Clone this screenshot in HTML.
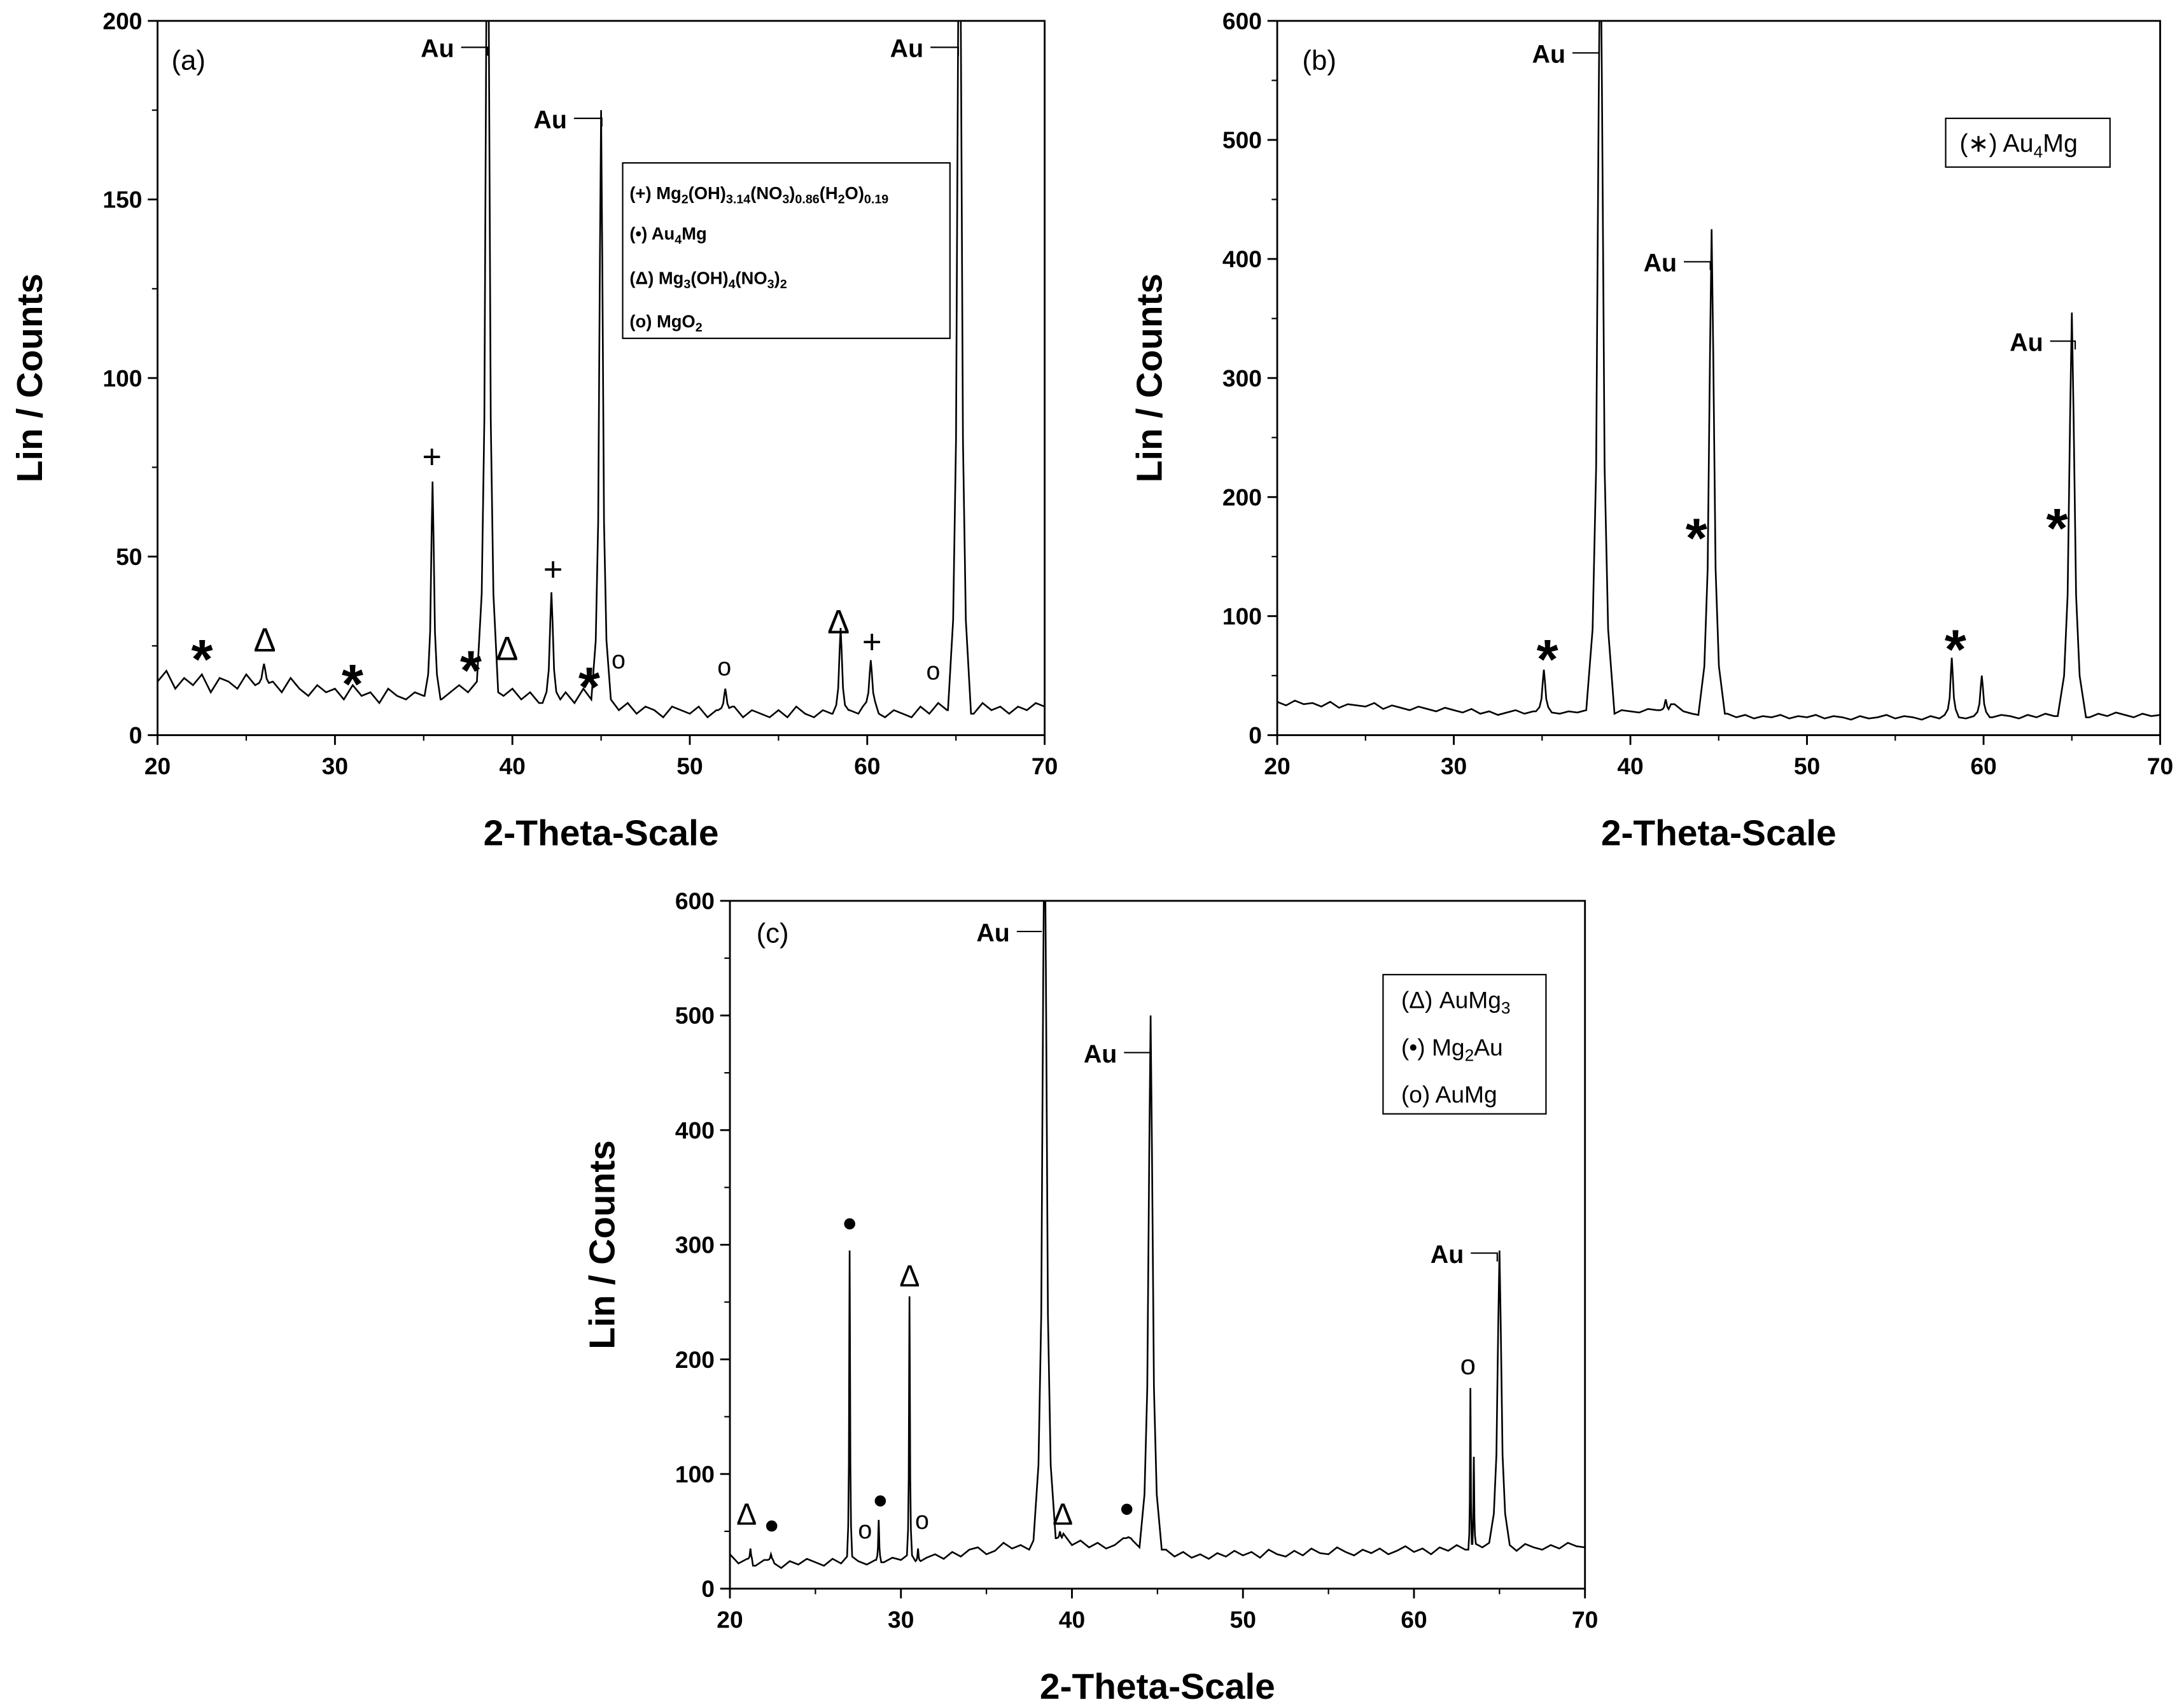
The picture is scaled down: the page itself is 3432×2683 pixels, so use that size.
<!DOCTYPE html>
<html><head><meta charset="utf-8"><style>
html,body{margin:0;padding:0;background:#fff}
svg{display:block}
text{font-family:"Liberation Sans",sans-serif}
</style></head><body>
<svg id="fig" xmlns="http://www.w3.org/2000/svg" width="3432" height="2683" viewBox="0 0 1568 1226">
<rect width="1568" height="1226" fill="#fff"/>
<defs>
<clipPath id="ca"><rect x="113" y="15" width="637" height="513"/></clipPath>
<clipPath id="cb"><rect x="917" y="15" width="634" height="513"/></clipPath>
<clipPath id="cc"><rect x="524" y="647" width="614" height="494"/></clipPath>
</defs>
<g id="pa"></g>
<g id="pb"></g>
<g id="pc"></g>

<g font-size="16">
<text x="123" y="50" font-size="20">(a)</text>
<text x="302" y="41" font-weight="bold" font-size="18">Au</text>
<path d="M331 34H350V40" stroke="#000" fill="none"/>
<text x="383" y="92" font-weight="bold" font-size="18">Au</text>
<path d="M412 85H432V91" stroke="#000" fill="none"/>
<text x="639" y="41" font-weight="bold" font-size="18">Au</text>
<path d="M668 34H688V40" stroke="#000" fill="none"/>
<g font-size="40" font-weight="bold" text-anchor="middle">
<text x="145" y="487">*</text><text x="253" y="505">*</text><text x="338" y="495">*</text><text x="423" y="507">*</text>
</g>
<g font-size="24" text-anchor="middle">
<text x="190" y="468">Δ</text><text x="364" y="474">Δ</text><text x="602" y="455">Δ</text>
<text x="310" y="336">+</text><text x="397" y="417">+</text><text x="626" y="469">+</text>
</g>
<g font-size="18" text-anchor="middle" font-family="Liberation Serif">
<text x="444" y="480">o</text><text x="520" y="485">o</text><text x="670" y="488">o</text>
</g>
<g font-size="12.5" font-weight="bold">
<rect x="447" y="117" width="235" height="126" fill="#fff" stroke="#000" stroke-width="1"/>
<text x="452" y="143">(+) Mg<tspan font-size="9" dy="3">2</tspan><tspan dy="-3">(OH)</tspan><tspan font-size="9" dy="3">3.14</tspan><tspan dy="-3">(NO</tspan><tspan font-size="9" dy="3">3</tspan><tspan dy="-3">)</tspan><tspan font-size="9" dy="3">0.86</tspan><tspan dy="-3">(H</tspan><tspan font-size="9" dy="3">2</tspan><tspan dy="-3">O)</tspan><tspan font-size="9" dy="3">0.19</tspan></text>
<text x="452" y="172">(•) Au<tspan font-size="9" dy="3">4</tspan><tspan dy="-3">Mg</tspan></text>
<text x="452" y="204">(Δ) Mg<tspan font-size="9" dy="3">3</tspan><tspan dy="-3">(OH)</tspan><tspan font-size="9" dy="3">4</tspan><tspan dy="-3">(NO</tspan><tspan font-size="9" dy="3">3</tspan><tspan dy="-3">)</tspan><tspan font-size="9" dy="3">2</tspan></text>
<text x="452" y="235">(o) MgO<tspan font-size="9" dy="3">2</tspan></text>
</g>
</g>

<g>
<text x="935" y="50" font-size="20">(b)</text>
<text x="1100" y="45" font-weight="bold" font-size="18">Au</text>
<path d="M1129 38H1148" stroke="#000" fill="none"/>
<text x="1180" y="195" font-weight="bold" font-size="18">Au</text>
<path d="M1209 188H1228V194" stroke="#000" fill="none"/>
<text x="1443" y="252" font-weight="bold" font-size="18">Au</text>
<path d="M1472 245H1490V251" stroke="#000" fill="none"/>
<g font-size="40" font-weight="bold" text-anchor="middle">
<text x="1111" y="487">*</text><text x="1218" y="400">*</text><text x="1404" y="480">*</text><text x="1477" y="393">*</text>
</g>
<g>
<rect x="1397" y="85" width="118" height="35" fill="#fff" stroke="#000"/>
<text x="1407" y="109" font-size="18">(∗) Au<tspan font-size="12" dy="4">4</tspan><tspan dy="-4">Mg</tspan></text>
</g>
</g>

<g>
<text x="543" y="677" font-size="20">(c)</text>
<text x="701" y="676" font-weight="bold" font-size="18">Au</text>
<path d="M730 669H748" stroke="#000" fill="none"/>
<text x="778" y="763" font-weight="bold" font-size="18">Au</text>
<path d="M807 756H826V762" stroke="#000" fill="none"/>
<text x="1027" y="907" font-weight="bold" font-size="18">Au</text>
<path d="M1056 900H1075V906" stroke="#000" fill="none"/>
<g font-size="22" text-anchor="middle">
<text x="536" y="1095">Δ</text><text x="653" y="924">Δ</text><text x="763" y="1095">Δ</text>
</g>
<g fill="#000"><circle cx="554" cy="1096" r="4"/><circle cx="610" cy="879" r="4"/><circle cx="632" cy="1078" r="4"/><circle cx="809" cy="1084" r="4"/></g>
<g font-size="18" text-anchor="middle" font-family="Liberation Serif">
<text x="621" y="1105">o</text><text x="662" y="1098">o</text><text x="1054" y="987" font-size="20">o</text>
</g>
<g font-size="17">
<rect x="993" y="700" width="117" height="100" fill="#fff" stroke="#000"/>
<text x="1006" y="724">(Δ) AuMg<tspan font-size="12" dy="4">3</tspan></text>
<text x="1006" y="758">(•) Mg<tspan font-size="12" dy="4">2</tspan><tspan dy="-4">Au</tspan></text>
<text x="1006" y="792">(o) AuMg</text>
</g>
</g>
</svg>
<script>
const xStart = 20, xStepDeg = 0.5;
const baseA = [15,18,13,16,14,17,12,16,15,13, 17,14,19,15,12,16,13,11,14,12, 13,10,14,11,12,9,13,11,10,12, 11,13,10,12,14,12,15,13,12,11, 13,10,12,9,11,10,12,9,13,10, 8,10,7,9,6,8,7,5,8,7, 6,8,5,7,6,8,5,7,6,5, 7,5,8,6,5,7,6,4,7,6, 8,6,5,7,6,5,8,6,9,7, 8,7,6,9,7,8,6,8,7,9, 8];
const peakPosA = [26.0,35.5,38.6,42.2,45.0,52.0,58.5,60.2,65.2];
const peakHA =   [20,  71,  260, 40,  175, 13,  30,  21,  260];
const peakWA =   [0.5, 0.45,0.6, 0.5, 0.55,0.4, 0.45,0.45,0.65];

const baseB = [28,25,29,26,27,24,28,23,26,25, 24,27,22,25,23,21,24,22,20,23, 21,19,22,18,20,17,19,21,18,20, 17,19,18,20,19,21,22,20,18,21, 20,19,22,21,24,26,20,18,17,19, 16,18,15,17,14,16,15,17,14,16, 15,17,14,16,15,13,16,14,15,17, 14,16,15,13,16,14,17,15,14,16, 18,15,17,16,14,17,15,18,16,17, 19,17,15,18,16,19,17,15,18,16, 17];
const peakPosB = [35.1,38.3,42.0,44.6,58.2,59.9,65.0];
const peakHB =   [55,  700, 30,  425, 65,  50,  355];
const peakWB =   [0.45,0.8, 0.3, 0.75,0.4, 0.45,0.8];

const baseC = [30,22,26,20,25,22,18,24,21,26, 23,20,26,22,28,24,21,25,23,27, 25,29,24,27,30,26,32,28,34,36, 30,33,40,35,38,34,42,36,44,48, 38,42,36,40,35,38,44,42,36,33, 30,34,28,32,27,30,26,31,28,33, 29,32,27,34,30,28,33,29,35,31, 30,36,32,29,34,31,35,30,33,37, 32,35,30,36,33,38,34,39,36,40, 35,38,33,39,36,34,38,35,40,37, 36];
const peakPosC = [21.2,22.4,27.0,28.7,30.5,31.0,38.4,39.3,43.3,44.6,63.3,63.5,65.0];
const peakHC =   [35,  30,  295, 60,  255, 35,  700, 50,  45,  500, 175, 115, 295];
const peakWC =   [0.15,0.2, 0.15,0.15,0.15,0.15,0.65,0.2, 0.25,0.65,0.12,0.12,0.6];

const xTicks = [20,30,40,50,60,70];
const yTicksA = [0,50,100,150,200];
const yTicksBC = [0,100,200,300,400,500,600];

const NS = "http://www.w3.org/2000/svg";
function mk(tag, attrs, parent){const e=document.createElementNS(NS,tag);for(const k in attrs)e.setAttribute(k,attrs[k]);parent.appendChild(e);return e;}

function panel(g, clip, L, R, T, B, yMax, base, pp, ph, pw, yTicks, yMinor){
  const sx = v => L + (v-20)/50*(R-L);
  const sy = v => B - v/yMax*(B-T);
  const baseAt = x => base[Math.max(0,Math.min(base.length-1,Math.round((x-xStart)/xStepDeg)))];
  let pts = [];
  base.forEach((v,i)=>{const x=xStart+i*xStepDeg; if(!pp.some((p,j)=>Math.abs(x-p)<pw[j])) pts.push([x,v]);});
  pp.forEach((p,j)=>{const b=baseAt(p-pw[j]), h=ph[j], w=pw[j];
    pts.push([p-w,b],[p-w*0.55,b+(h-b)*0.1],[p-w*0.3,b+(h-b)*0.3],[p-w*0.12,b+(h-b)*0.75],[p,h],[p+w*0.12,b+(h-b)*0.75],[p+w*0.3,b+(h-b)*0.3],[p+w*0.55,b+(h-b)*0.1],[p+w,baseAt(p+w)]);});
  pts.sort((a,b)=>a[0]-b[0]);
  const d = pts.map((q,i)=>(i?"L":"M")+sx(q[0]).toFixed(2)+" "+sy(q[1]).toFixed(2)).join("");
  const line = mk("path",{d:d,fill:"none",stroke:"#000","stroke-width":1.2,"clip-path":"url(#"+clip+")"},g);
  
  
  const frame = mk("rect",{x:L,y:T,width:R-L,height:B-T,fill:"none",stroke:"#000","stroke-width":1.3},g);
  
  
  xTicks.forEach(t=>{
    mk("line",{x1:sx(t),x2:sx(t),y1:B,y2:B+7,stroke:"#000","stroke-width":1.3},g);
    if(t<70) mk("line",{x1:sx(t+5),x2:sx(t+5),y1:B,y2:B+4,stroke:"#000","stroke-width":1},g);
    const tx = mk("text",{x:sx(t),y:B+28,"text-anchor":"middle","font-size":17,"font-weight":"bold"},g);
    tx.textContent=t;
    
    
  });
  yTicks.forEach((t,i)=>{
    mk("line",{x1:L-7,x2:L,y1:sy(t),y2:sy(t),stroke:"#000","stroke-width":1.3},g);
    if(i<yTicks.length-1) mk("line",{x1:L-4,x2:L,y1:sy(t+yMinor),y2:sy(t+yMinor),stroke:"#000","stroke-width":1},g);
    const tx = mk("text",{x:L-11,y:sy(t)+6,"text-anchor":"end","font-size":17,"font-weight":"bold"},g);
    tx.textContent=t;
    
    
  });
  const xt = mk("text",{x:(L+R)/2,y:B+79,"text-anchor":"middle","font-size":26,"font-weight":"bold"},g);
  xt.textContent="2-Theta-Scale";
  
  
  const yt = mk("text",{x:0,y:0,"text-anchor":"middle","font-size":26,"font-weight":"bold",transform:"translate("+(L-83)+","+((T+B)/2)+") rotate(-90)"},g);
  yt.textContent="Lin / Counts";
  
  
}
panel(document.getElementById("pa"),"ca",113,750,15,528,200,baseA,peakPosA,peakHA,peakWA,yTicksA,25);
panel(document.getElementById("pb"),"cb",917,1551,15,528,600,baseB,peakPosB,peakHB,peakWB,yTicksBC,50);
panel(document.getElementById("pc"),"cc",524,1138,647,1141,600,baseC,peakPosC,peakHC,peakWC,yTicksBC,50);
</script>
</body></html>
